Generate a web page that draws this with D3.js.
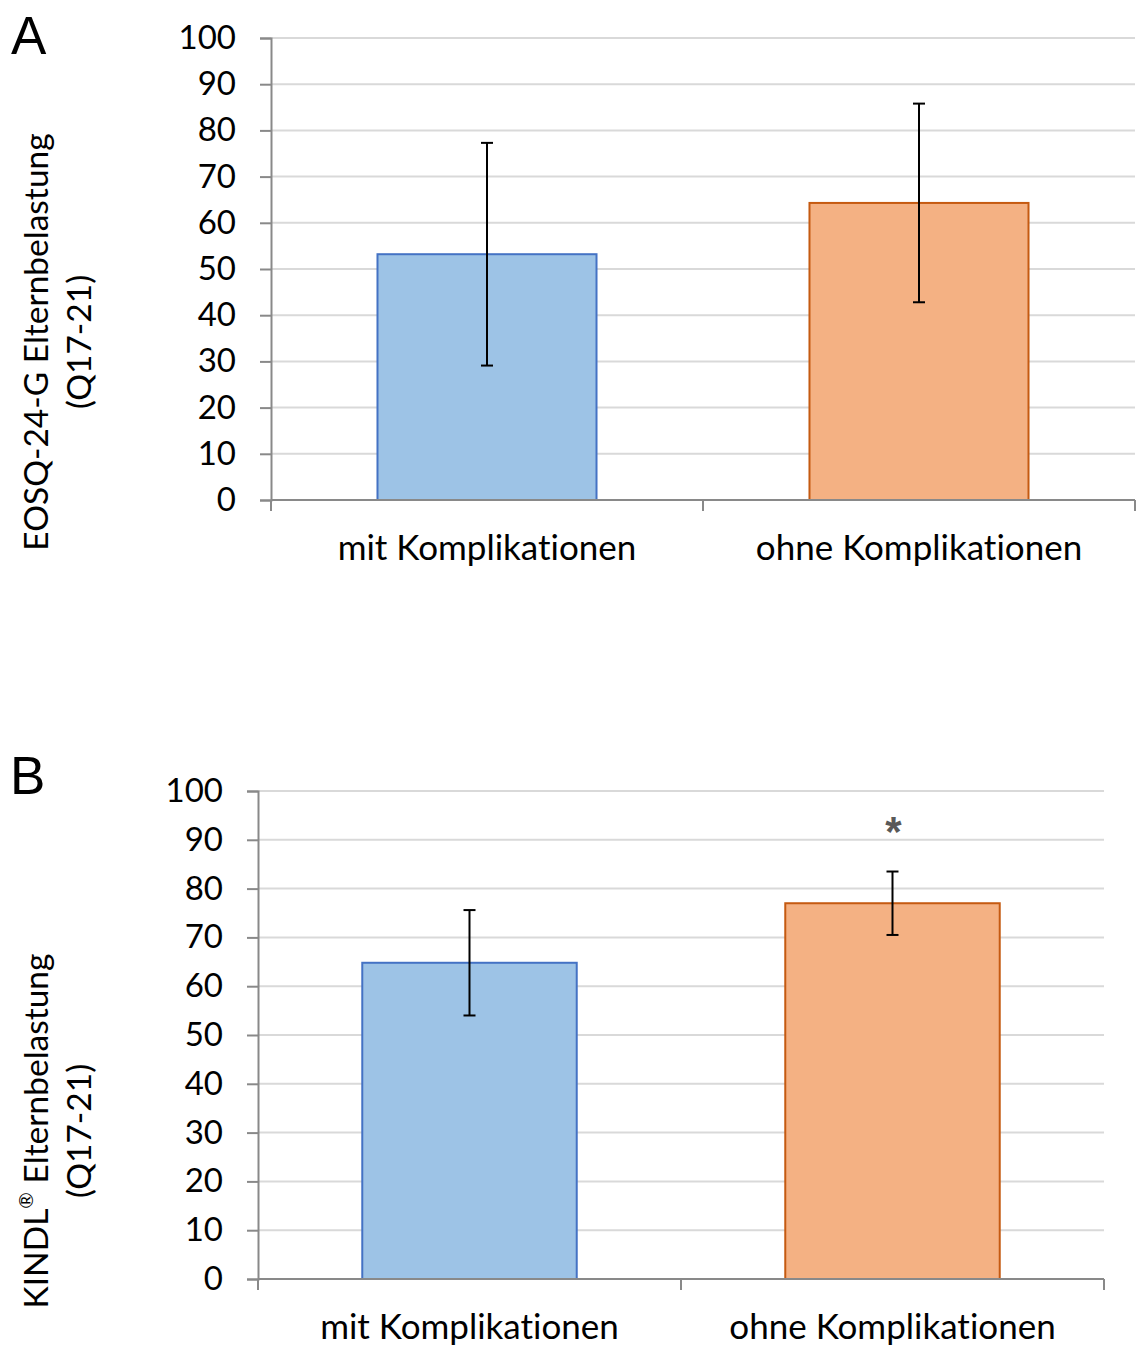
<!DOCTYPE html>
<html>
<head>
<meta charset="utf-8">
<script src="https://cdn.jsdelivr.net/npm/d3@7"></script>
<style>
  html, body { margin: 0; padding: 0; background: #fff; }
  svg { display: block; }
  text { font-variant-ligatures: none; }
</style>
</head>
<body>
<svg id="chart" width="1137" height="1347"></svg>
<script>
// Groups and per-panel means with their standard deviations
const categories = ["mit Komplikationen", "ohne Komplikationen"];
const eosqMean = [53.2, 64.3];
const eosqSD = [24.1, 21.5];
const kindlMean = [64.8, 77.0];
const kindlSD = [10.8, 6.5];
const yTicks = [0, 10, 20, 30, 40, 50, 60, 70, 80, 90, 100];
const significance = ["", "*"];

const fills = ["#9dc3e6", "#f4b183"];
const strokes = ["#4472c4", "#c55a11"];
const FONT = "Lato, 'Open Sans', sans-serif";

const svg = d3.select("#chart");

function panel(cfg) {
  const g = svg.append("g");
  const x = d3.scaleBand().domain(categories).range([cfg.x0, cfg.x1]).padding(0);
  const y = d3.scaleLinear().domain([0, 100]).range([cfg.yBottom, cfg.yTop]);

  // horizontal gridlines
  g.selectAll("line.grid").data(yTicks.filter(t => t > 0)).join("line")
    .attr("x1", cfg.x0).attr("x2", cfg.x1)
    .attr("y1", d => y(d)).attr("y2", d => y(d))
    .attr("stroke", "#d9d9d9").attr("stroke-width", 2);

  // y axis
  const yAxis = d3.axisLeft(y).tickValues(yTicks).tickSize(11).tickPadding(24);
  const ya = g.append("g").attr("transform", `translate(${cfg.x0},0)`).call(yAxis);
  ya.select(".domain").attr("stroke", "#898989").attr("stroke-width", 2);
  ya.selectAll(".tick line").attr("stroke", "#898989").attr("stroke-width", 2);
  ya.selectAll(".tick text").attr("font-family", FONT).attr("font-size", 33)
    .attr("fill", "#000");

  // bars
  const bw = x.bandwidth() * 0.507;
  const rows = categories.map((c, i) => ({ c, i, m: cfg.mean[i], sd: cfg.sd[i] }));
  g.selectAll("rect.bar").data(rows).join("rect")
    .attr("x", d => x(d.c) + x.bandwidth() / 2 - bw / 2)
    .attr("width", bw)
    .attr("y", d => y(d.m))
    .attr("height", d => y(0) - y(d.m))
    .attr("fill", d => fills[d.i])
    .attr("stroke", d => strokes[d.i])
    .attr("stroke-width", 2);

  // x axis baseline and boundary ticks
  g.append("line").attr("x1", cfg.x0).attr("x2", cfg.x1)
    .attr("y1", y(0)).attr("y2", y(0))
    .attr("stroke", "#898989").attr("stroke-width", 2);
  const bounds = categories.map(c => x(c)).concat([cfg.x1]);
  g.selectAll("line.xt").data(bounds).join("line")
    .attr("x1", d => d).attr("x2", d => d)
    .attr("y1", y(0)).attr("y2", y(0) + 11)
    .attr("stroke", "#898989").attr("stroke-width", 2);

  // category labels
  g.selectAll("text.cat").data(categories).join("text")
    .attr("x", d => x(d) + x.bandwidth() / 2)
    .attr("y", y(0) + cfg.labelOffset)
    .attr("text-anchor", "middle")
    .attr("font-family", FONT).attr("font-size", 35)
    .text(d => d);

  // error bars
  const cap = 6;
  rows.forEach(d => {
    const cx = x(d.c) + x.bandwidth() / 2;
    const eg = g.append("g").attr("stroke", "#000").attr("stroke-width", 2);
    eg.append("line").attr("x1", cx).attr("x2", cx)
      .attr("y1", y(d.m + d.sd)).attr("y2", y(d.m - d.sd));
    [d.m + d.sd, d.m - d.sd].forEach(v => {
      eg.append("line").attr("x1", cx - cap).attr("x2", cx + cap)
        .attr("y1", y(v)).attr("y2", y(v));
    });
  });

  // significance markers
  if (cfg.marks) {
    rows.forEach(d => {
      if (!significance[d.i]) return;
      g.append("text")
        .attr("x", x(d.c) + x.bandwidth() / 2 + 1)
        .attr("y", y(d.m + d.sd) - 26)
        .attr("text-anchor", "middle")
        .attr("font-family", "'Liberation Sans', Arial, sans-serif")
        .attr("font-weight", "bold")
        .attr("font-size", 42)
        .attr("fill", "#595959")
        .text(significance[d.i]);
    });
  }

  // y axis title (two lines)
  cfg.title.forEach((t, k) => {
    const tx = g.append("text")
      .attr("transform", `translate(${cfg.titleX[k]},${cfg.titleY}) rotate(-90)`)
      .attr("text-anchor", "middle")
      .attr("dominant-baseline", "central")
      .attr("font-family", FONT).attr("font-size", 33.5);
    if (Array.isArray(t)) {
      tx.append("tspan").text(t[0]);
      tx.append("tspan").attr("font-size", 20).attr("dy", -10).text(t[1]);
      tx.append("tspan").attr("dy", 10).text(t[2]);
    } else {
      tx.text(t);
    }
  });

  // panel letter
  g.append("text").attr("x", cfg.letterX).attr("y", cfg.letterY)
    .attr("font-family", "'Liberation Sans', Arial, sans-serif")
    .attr("font-size", 53).text(cfg.letter);
}

panel({
  x0: 271, x1: 1135, yTop: 38, yBottom: 500,
  mean: eosqMean, sd: eosqSD, labelOffset: 60,
  title: ["EOSQ-24-G Elternbelastung", "(Q17-21)"], titleX: [35, 78], titleY: 342,
  letter: "A", letterX: 11, letterY: 54, marks: false
});

panel({
  x0: 258, x1: 1104, yTop: 791, yBottom: 1279,
  mean: kindlMean, sd: kindlSD, labelOffset: 60,
  title: [["KINDL", "®", " Elternbelastung"], "(Q17-21)"], titleX: [35, 78], titleY: 1131,
  letter: "B", letterX: 10, letterY: 794, marks: true
});
</script>
</body>
</html>
